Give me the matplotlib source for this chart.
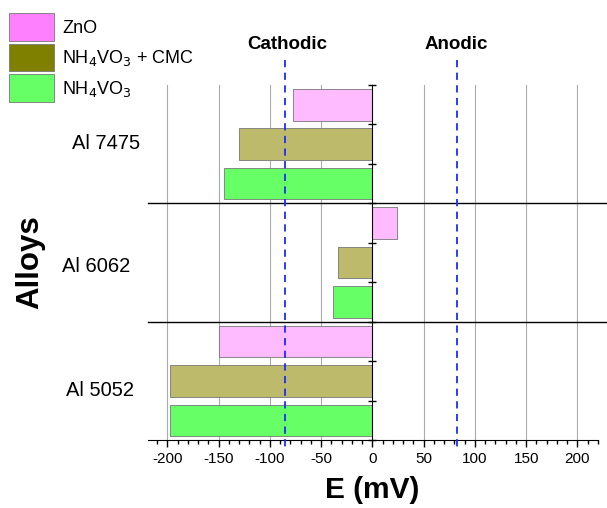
import matplotlib
matplotlib.use("Agg")
import matplotlib.pyplot as plt
from matplotlib.patches import Patch
import numpy as np

plt.rcParams['font.family'] = ['Liberation Sans', 'DejaVu Sans']

alloys = ["Al 7475", "Al 6062", "Al 5052"]
series = ["ZnO", "NH$_4$VO$_3$ + CMC", "NH$_4$VO$_3$"]
zno = [-78, 24, -150]
cmc = [-130, -34, -198]
nh4 = [-145, -39, -198]
cathodic = -85
anodic = 82
xticks = [-200, -150, -100, -50, 0, 50, 100, 150, 200]

bar_colors = ["#FFBBFF", "#BDBA6C", "#66FF66"]
legend_colors = ["#FF80FF", "#808000", "#66FF66"]

fig = plt.figure(figsize=(6.07, 5.08), dpi=100)
ax = fig.add_axes([148/607, 1-440/508, 450/607, 355/508])
ax.set_xlim(-219, 220)
ax.set_ylim(9, 0)

vals = [zno, cmc, nh4]
for g in range(3):
    for s in range(3):
        y = g*3 + s + 0.5
        ax.barh(y, vals[s][g], height=0.8, color=bar_colors[s],
                edgecolor="#777777", linewidth=0.6, zorder=3)

# grid lines
for xv in xticks:
    if xv != 0:
        ax.axvline(xv, color="#aaaaaa", lw=0.8, zorder=1)

# group separators
for yb in [3, 6]:
    ax.plot([0, 1.03], [yb, yb], transform=ax.get_yaxis_transform(),
            color="black", lw=1.0, clip_on=False, zorder=4)

# reference lines
for xv in [cathodic, anodic]:
    ax.plot([xv, xv], [-0.63, 9.25], color="#1a2cff", lw=1.3, ls=(0, (4, 3)),
            clip_on=False, zorder=5)
ax.text(cathodic + 2, -1.02, "Cathodic", ha="center", va="center",
        fontsize=13.5, fontweight="bold")
ax.text(anodic, -1.02, "Anodic", ha="center", va="center",
        fontsize=13.5, fontweight="bold")

# spines
ax.spines['top'].set_visible(False)
ax.spines['right'].set_visible(False)
ax.spines['left'].set_position(('data', 0))
ax.spines['left'].set_zorder(6)
ax.set_yticks(np.arange(0, 10))
ax.set_yticklabels([])
ax.tick_params(axis='y', direction='inout', length=6, width=1)
ax.set_xticks(xticks)
ax.set_xticklabels([str(v) for v in xticks], fontsize=11)
ax.set_xticks(np.arange(-210, 221, 10), minor=True)
ax.tick_params(axis='x', which='major', direction='out', length=5, width=1)
ax.tick_params(axis='x', which='minor', direction='out', length=3, width=1)

# group labels
label_x = [106, 96, 100]
for g, name in enumerate(alloys):
    fig.text(label_x[g]/607, 1-(144 + g*123)/508, name, ha="center", va="center",
             fontsize=14.5)

fig.text(30/607, 1-262/508, "Alloys", rotation=90, ha="center", va="center",
         fontsize=22.5, fontweight="bold")
fig.text(372/607, 1-490/508, "E (mV)", ha="center", va="center",
         fontsize=21.5, fontweight="bold")

handles = [Patch(facecolor=c, edgecolor="#777777", lw=0.6) for c in legend_colors]
fig.legend(handles, series, loc="upper left", bbox_to_anchor=(2/607, 1-6/508),
           frameon=False, fontsize=13, handlelength=2.5, handleheight=1.95,
           labelspacing=0.18, handletextpad=0.45, borderaxespad=0.0,
           borderpad=0.4)

fig.savefig("out.png", dpi=100)
